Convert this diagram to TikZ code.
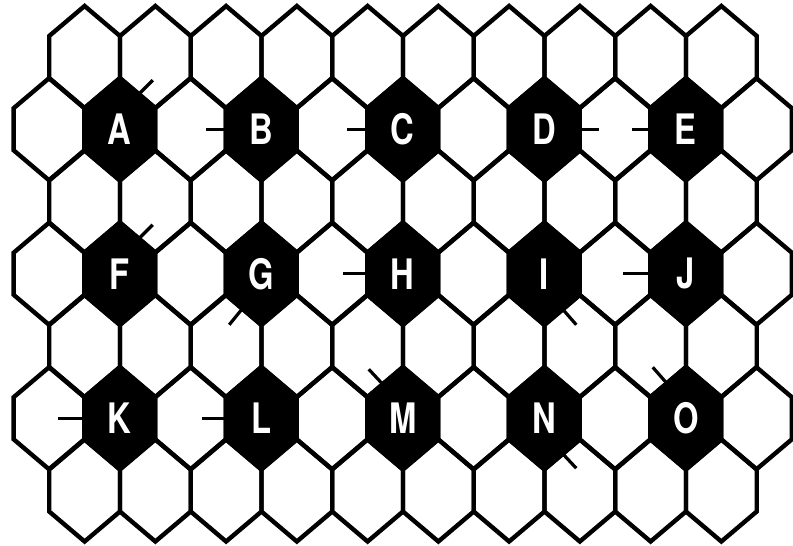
\documentclass[tikz,border=0pt]{standalone}
\usepackage{fontspec}
\newfontfamily\hexlabelfont{TeX Gyre Heros}[FakeStretch=0.78]
\usetikzlibrary{calc}
\begin{document}
\begin{tikzpicture}[x=1pt,y=-1pt,
  hexline/.style={line width=4.4pt, line join=miter},
  tickline/.style={line width=3.2pt},
  lab/.style={text=white, font=\hexlabelfont\bfseries\fontsize{42}{42}\selectfont, inner sep=0pt},
  whitecell/.pic={\draw[hexline] (0,-51) -- (35.4,-21) -- (35.4,21) -- (0,51) -- (-35.4,21) -- (-35.4,-21) -- cycle;},
  blackcell/.pic={\draw[hexline,fill=black] (0,-51) -- (35.4,-21) -- (35.4,21) -- (0,51) -- (-35.4,21) -- (-35.4,-21) -- cycle;}]
\useasboundingbox (0,0) rectangle (793,546);
% even rows: 10 cells each
\foreach \r in {0,2,4,6}
  \foreach \k in {0,...,9}
    \pic at ({84.6+70.75*\k},{57+72.25*\r}) {whitecell};
% odd rows: white cells
\foreach \r in {1,3,5}
  \foreach \k in {0,2,...,10}
    \pic at ({49+70.75*\k},{57+72.25*\r}) {whitecell};
% odd rows: black cells
\foreach \r in {1,3,5}
  \foreach \k in {1,3,...,9}
    \pic at ({49+70.75*\k},{57+72.25*\r}) {blackcell};
% labels
\foreach \l [count=\i from 0] in {A,B,C,D,E,F,G,H,I,J,K,L,M,N,O} {
  \pgfmathtruncatemacro\row{int(\i/5)}
  \pgfmathtruncatemacro\col{mod(\i,5)}
  \node[lab] (\l) at ({49+70.75*(2*\col+1)},{57+72.25*(2*\row+1)}) {\l};
}
% ticks
\draw[tickline] ($(A)+(19,-35)$) -- ($(A)+(33,-49)$);
\draw[tickline] ($(B)+(-35.4,0)$) -- ($(B)+(-55,0)$);
\draw[tickline] ($(C)+(-35.4,0)$) -- ($(C)+(-56,0)$);
\draw[tickline] ($(D)+(35.4,0)$) -- ($(D)+(55,0)$);
\draw[tickline] ($(E)+(-35.4,0)$) -- ($(E)+(-54,0)$);
\draw[tickline] ($(F)+(19,-35)$) -- ($(F)+(33,-49)$);
\draw[tickline] ($(G)+(-19,35)$) -- ($(G)+(-32,51)$);
\draw[tickline] ($(H)+(-35.4,0)$) -- ($(H)+(-60,0)$);
\draw[tickline] ($(I)+(18,35)$) -- ($(I)+(32,51)$);
\draw[tickline] ($(J)+(-35.4,0)$) -- ($(J)+(-63,0)$);
\draw[tickline] ($(K)+(-35.4,0)$) -- ($(K)+(-62,0)$);
\draw[tickline] ($(L)+(-35.4,0)$) -- ($(L)+(-59,0)$);
\draw[tickline] ($(M)+(-20,-34)$) -- ($(M)+(-34,-49)$);
\draw[tickline] ($(N)+(18,35)$) -- ($(N)+(32,50)$);
\draw[tickline] ($(O)+(-19,-35)$) -- ($(O)+(-33,-51)$);
\end{tikzpicture}
\end{document}
